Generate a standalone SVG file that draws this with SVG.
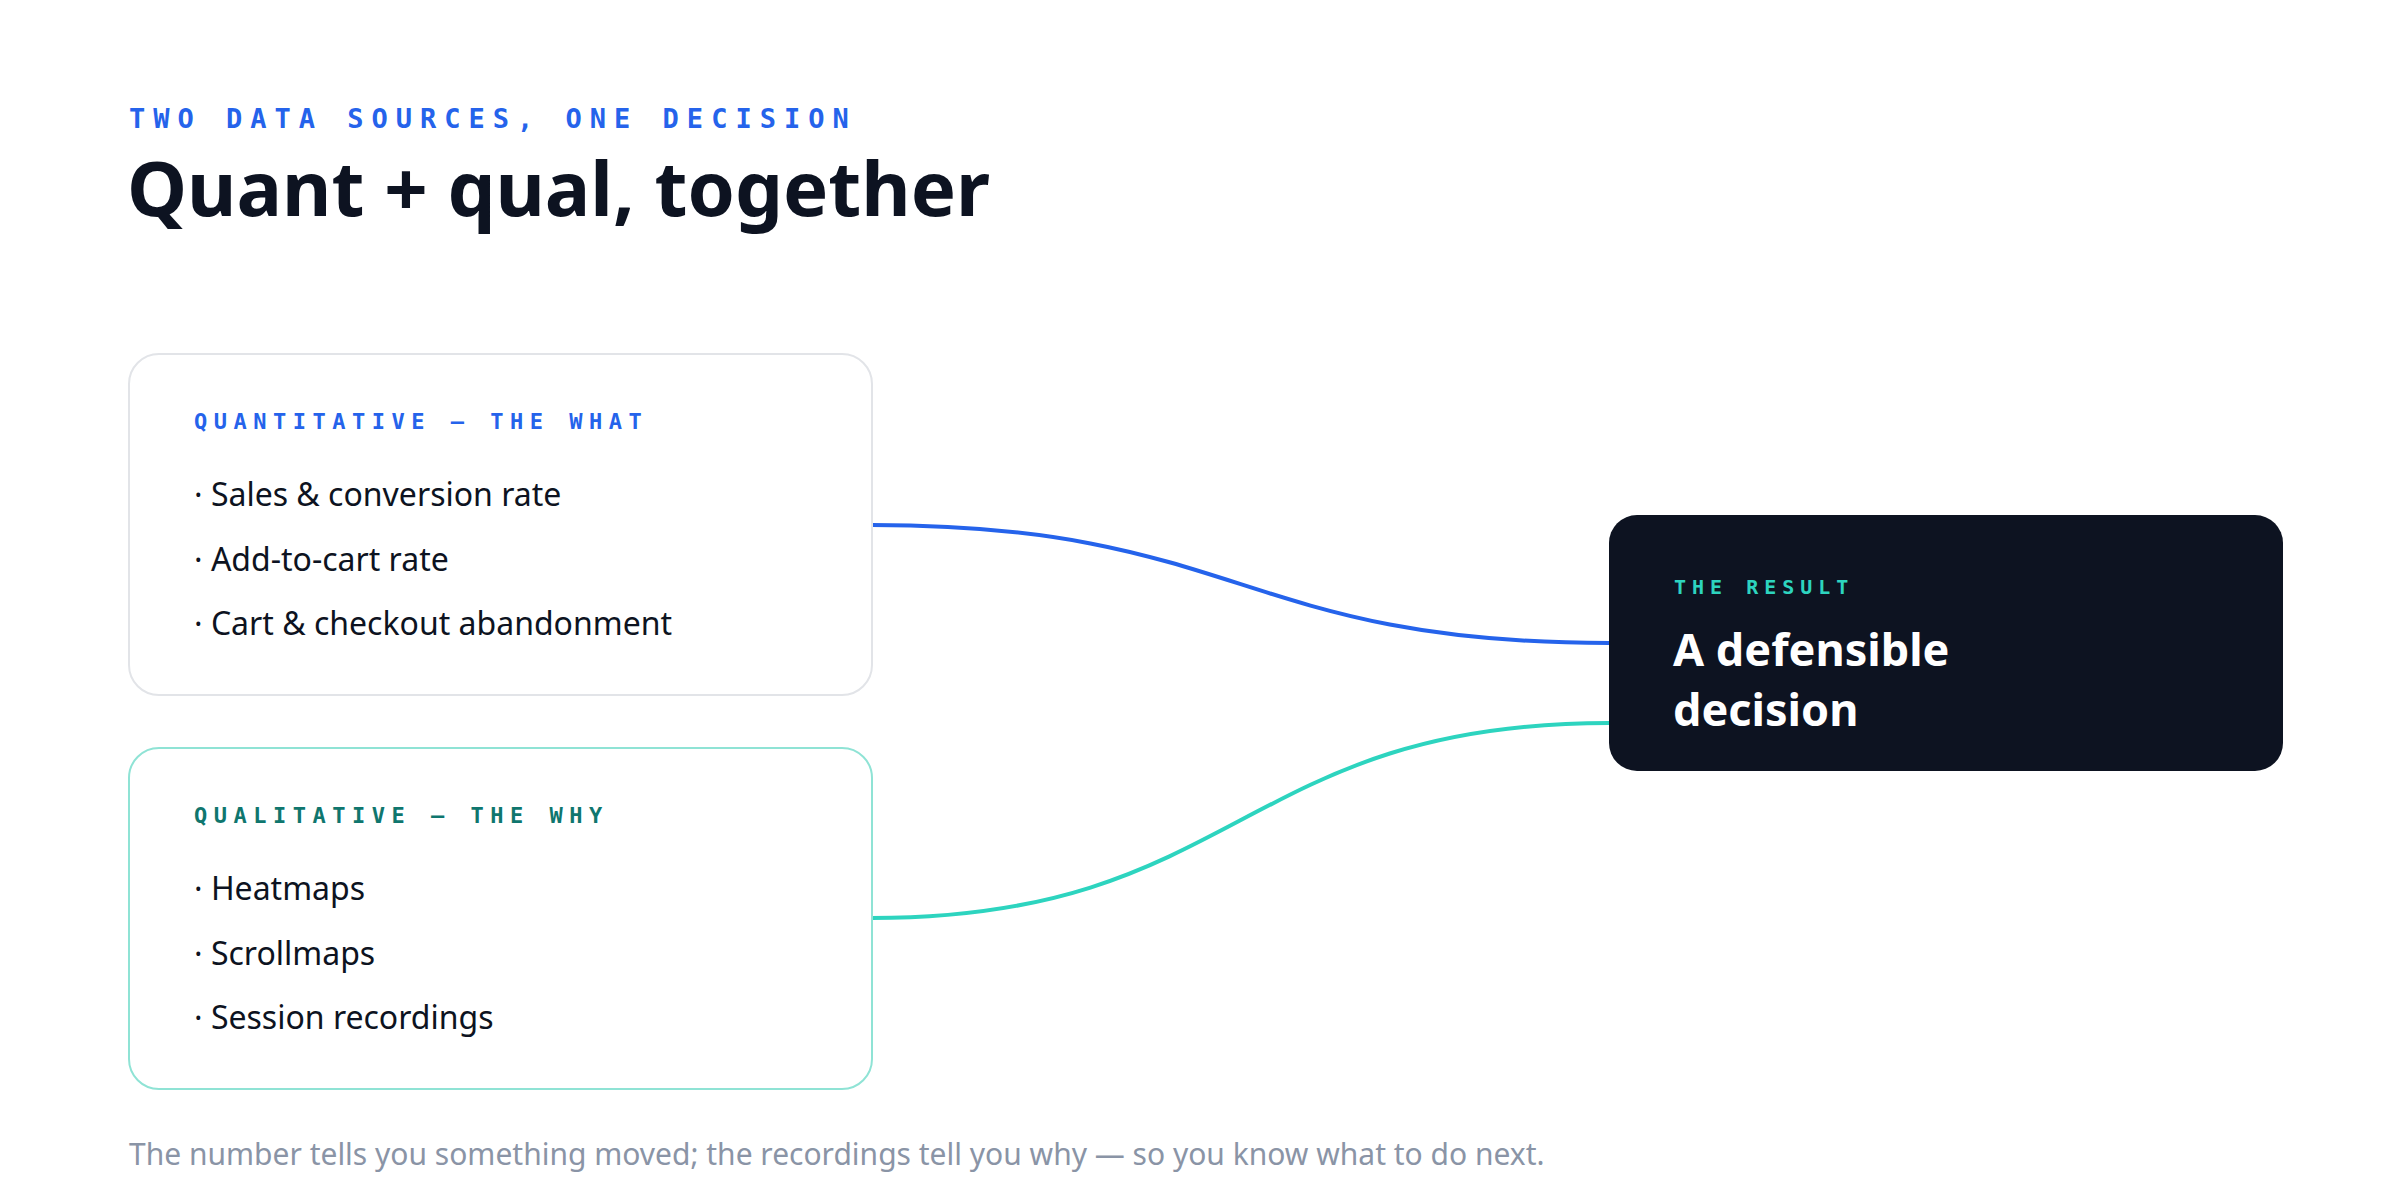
<svg xmlns="http://www.w3.org/2000/svg" width="2400" height="1200" viewBox="0 0 2400 1200">
<style>
.mono{font-family:"DejaVu Sans Mono","Liberation Mono",monospace;font-weight:bold}
.sans{font-family:"Noto Sans","Open Sans",sans-serif}
.bul{font-family:"Noto Sans","Open Sans",sans-serif;font-size:32px;fill:#0d1321}
</style>
<rect width="2400" height="1200" fill="#ffffff"/>
<text x="129" y="128" class="mono" font-size="27" letter-spacing="8" fill="#2563eb">TWO DATA SOURCES, ONE DECISION</text>
<text x="127" y="216" class="sans" font-size="76" font-weight="bold" fill="#0d1321">Quant + qual, together</text>
<g id="connectors" fill="none" stroke-width="4">
<path d="M872,525 C1240,525 1240,643 1609,643" stroke="#2563eb"/>
<path d="M872,918 C1240,918 1240,723 1609,723" stroke="#2dd4bf"/>
</g>
<g id="quant">
<rect x="129" y="354" width="743" height="341" rx="30" fill="#fff" stroke="#e2e4e8" stroke-width="2"/>
<text x="194" y="429" class="mono" font-size="22" letter-spacing="6.5" fill="#2563eb">QUANTITATIVE — THE WHAT</text>
<text x="194" y="506" class="bul">· Sales &amp; conversion rate</text>
<text x="194" y="571" class="bul">· Add-to-cart rate</text>
<text x="194" y="635" class="bul">· Cart &amp; checkout abandonment</text>
</g>
<g id="qual">
<rect x="129" y="748" width="743" height="341" rx="30" fill="#fff" stroke="#8fe3d5" stroke-width="2"/>
<text x="194" y="823" class="mono" font-size="22" letter-spacing="6.5" fill="#0f766e">QUALITATIVE — THE WHY</text>
<text x="194" y="900" class="bul">· Heatmaps</text>
<text x="194" y="965" class="bul">· Scrollmaps</text>
<text x="194" y="1029" class="bul">· Session recordings</text>
</g>
<g id="result">
<rect x="1609" y="515" width="674" height="256" rx="28" fill="#0d1321"/>
<text x="1674" y="594" class="mono" font-size="20" letter-spacing="6" fill="#2dd4bf">THE RESULT</text>
<text x="1673" y="666" class="sans" font-size="45" font-weight="bold" fill="#fff">A defensible</text>
<text x="1673" y="726" class="sans" font-size="45" font-weight="bold" fill="#fff">decision</text>
</g>
<text x="129" y="1165" class="sans" font-size="30" fill="#8a94a6">The number tells you something moved; the recordings tell you why — so you know what to do next.</text>
</svg>
